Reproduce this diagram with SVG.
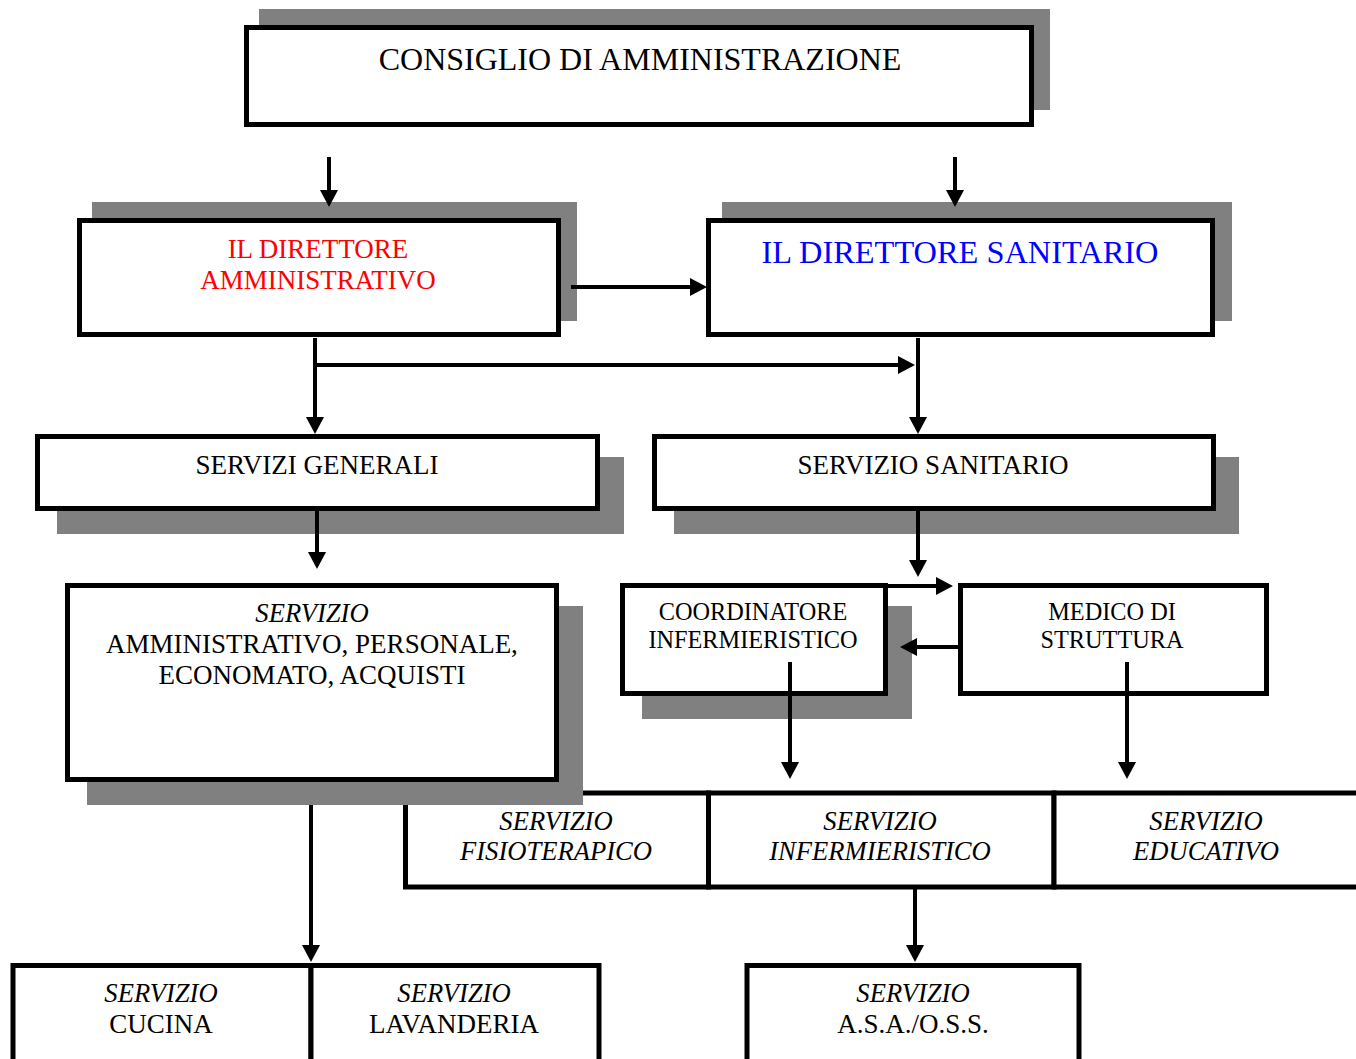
<svg xmlns="http://www.w3.org/2000/svg" width="1356" height="1059" viewBox="0 0 1356 1059">
<style>
.sh{fill:#808080}
.bx{fill:#fff;stroke:#000;stroke-width:5}
.t{font-family:"Liberation Serif","Times New Roman",serif;font-size:27px;text-anchor:middle;fill:#000}
.i{font-style:italic;font-size:26.6px}
.s{font-size:24.3px}
.c{stroke:#000;stroke-width:4;fill:none;marker-end:url(#ah)}
</style>
<defs>
<marker id="ah" markerUnits="userSpaceOnUse" viewBox="0 -10 18 20" markerWidth="18" markerHeight="20" refX="1" refY="0" orient="auto">
<path d="M0,-9 L17,0 L0,9 z" fill="#000"/>
</marker>
</defs>
<rect width="1356" height="1059" fill="#fff"/>

<g id="consiglio">
<rect class="sh" x="259" y="9" width="791" height="101"/>
<rect class="bx" x="246.5" y="27.5" width="785" height="97"/>
<text class="t" x="640" y="70" style="font-size:32px">CONSIGLIO DI AMMINISTRAZIONE</text>
</g>

<g id="dir-amm">
<rect class="sh" x="92" y="202" width="485" height="119"/>
<rect class="bx" x="79.5" y="220.5" width="479" height="114"/>
<text class="t" x="318" y="258" style="fill:#ff0000">IL DIRETTORE</text>
<text class="t" x="318" y="289" style="fill:#ff0000">AMMINISTRATIVO</text>
</g>

<g id="dir-san">
<rect class="sh" x="722" y="202" width="510" height="119"/>
<rect class="bx" x="708.5" y="220.5" width="504" height="114"/>
<text class="t" x="960" y="263" style="fill:#0000ff;font-size:32.4px">IL DIRETTORE SANITARIO</text>
</g>

<g id="servizi-generali">
<rect class="sh" x="57" y="457" width="567" height="77"/>
<rect class="bx" x="37.5" y="436.5" width="560" height="72"/>
<text class="t" x="317" y="474">SERVIZI GENERALI</text>
</g>

<g id="servizio-sanitario">
<rect class="sh" x="674" y="457" width="565" height="77"/>
<rect class="bx" x="654.5" y="436.5" width="559" height="72"/>
<text class="t" x="933" y="474">SERVIZIO SANITARIO</text>
</g>

<g id="fisioterapico">
<rect class="bx" x="405.5" y="793" width="303" height="94"/>
<text class="t i" x="556" y="830">SERVIZIO</text>
<text class="t i" x="556" y="860">FISIOTERAPICO</text>
</g>

<g id="infermieristico">
<rect class="bx" x="708.5" y="793" width="345.5" height="94"/>
<text class="t i" x="880" y="830">SERVIZIO</text>
<text class="t i" x="880" y="860">INFERMIERISTICO</text>
</g>

<g id="educativo">
<rect class="bx" x="1054" y="793" width="350" height="94"/>
<text class="t i" x="1206" y="830">SERVIZIO</text>
<text class="t i" x="1206" y="860">EDUCATIVO</text>
</g>

<g id="servizio-amministrativo">
<rect class="sh" x="87" y="606" width="496" height="199"/>
<rect class="bx" x="67.5" y="585.5" width="489" height="194"/>
<text class="t i" x="312" y="622">SERVIZIO</text>
<text class="t" x="312" y="653">AMMINISTRATIVO, PERSONALE,</text>
<text class="t" x="312" y="684">ECONOMATO, ACQUISTI</text>
</g>

<g id="coordinatore">
<rect class="sh" x="642" y="606" width="270" height="113"/>
<rect class="bx" x="622.5" y="585.5" width="263" height="108"/>
<text class="t s" x="753" y="620">COORDINATORE</text>
<text class="t s" x="753" y="648">INFERMIERISTICO</text>
</g>

<g id="medico">
<rect class="bx" x="960.5" y="585.5" width="306" height="108"/>
<text class="t s" x="1112" y="620">MEDICO DI</text>
<text class="t s" x="1112" y="648">STRUTTURA</text>
</g>

<g id="cucina">
<rect class="bx" x="13" y="965.5" width="298" height="110"/>
<text class="t i" x="161" y="1002">SERVIZIO</text>
<text class="t" x="161" y="1033">CUCINA</text>
</g>

<g id="lavanderia">
<rect class="bx" x="311" y="965.5" width="288" height="110"/>
<text class="t i" x="454" y="1002">SERVIZIO</text>
<text class="t" x="454" y="1033">LAVANDERIA</text>
</g>

<g id="asa-oss">
<rect class="bx" x="747" y="965.5" width="332" height="110"/>
<text class="t i" x="913" y="1002">SERVIZIO</text>
<text class="t" x="913" y="1033">A.S.A./O.S.S.</text>
</g>

<g id="connectors">
<path class="c" d="M329,157 V191"/>
<path class="c" d="M955,157 V191"/>
<path class="c" d="M571,287 H691"/>
<path class="c" d="M315,338 V418"/>
<path class="c" d="M315,365 H899"/>
<path class="c" d="M918,338 V418"/>
<path class="c" d="M317,511 V553"/>
<path class="c" d="M918,511 V561"/>
<path class="c" d="M884,586 H937"/>
<path class="c" d="M958,647 H916"/>
<path class="c" d="M790,662 V763"/>
<path class="c" d="M1127,662 V763"/>
<path class="c" d="M311,805 V946"/>
<path class="c" d="M915,888 V946"/>
</g>
</svg>
